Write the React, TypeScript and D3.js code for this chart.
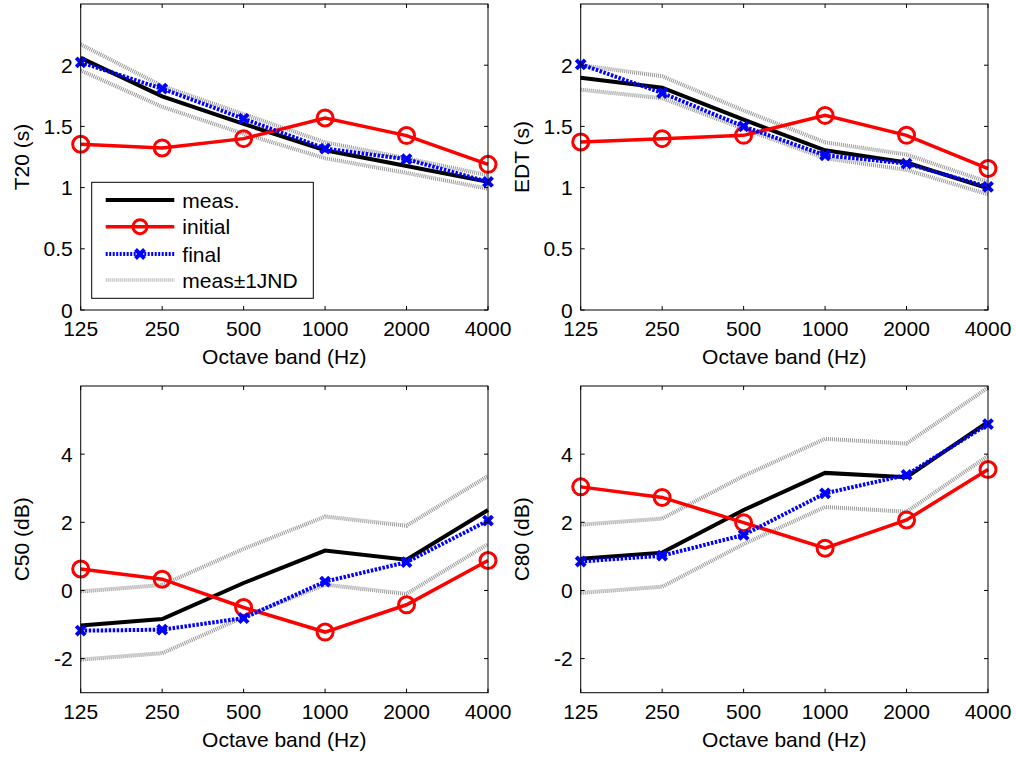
import * as d3 from 'd3';

// octave bands
const bands = ['125', '250', '500', '1000', '2000', '4000'];

// T20 (s)
const t20Meas = [2.06, 1.745, 1.52, 1.305, 1.177, 1.047];
const t20Init = [1.354, 1.324, 1.40, 1.569, 1.425, 1.19];
const t20Final = [2.023, 1.808, 1.563, 1.319, 1.232, 1.047];
const t20Upper = [2.17, 1.83, 1.60, 1.37, 1.24, 1.10];
const t20Lower = [1.957, 1.66, 1.44, 1.24, 1.12, 0.99];

// EDT (s)
const edtMeas = [1.898, 1.816, 1.555, 1.305, 1.205, 0.993];
const edtInit = [1.373, 1.40, 1.427, 1.59, 1.427, 1.156];
const edtFinal = [2.007, 1.773, 1.50, 1.264, 1.196, 1.006];
const edtUpper = [2.0, 1.91, 1.63, 1.37, 1.27, 1.045];
const edtLower = [1.80, 1.73, 1.48, 1.24, 1.145, 0.945];

// C50 (dB)
const c50Meas = [-1.03, -0.84, 0.22, 1.17, 0.90, 2.36];
const c50Init = [0.63, 0.33, -0.50, -1.22, -0.42, 0.88];
const c50Final = [-1.18, -1.15, -0.81, 0.26, 0.83, 2.05];
const c50Upper = [-0.03, 0.16, 1.22, 2.17, 1.90, 3.36];
const c50Lower = [-2.03, -1.84, -0.78, 0.17, -0.10, 1.36];

// C80 (dB)
const c80Meas = [0.93, 1.11, 2.36, 3.45, 3.32, 4.95];
const c80Init = [3.04, 2.73, 1.99, 1.24, 2.07, 3.55];
const c80Final = [0.85, 1.02, 1.63, 2.85, 3.39, 4.88];
const c80Upper = [1.93, 2.11, 3.36, 4.45, 4.31, 5.95];
const c80Lower = [-0.07, 0.11, 1.36, 2.45, 2.31, 3.95];

const rtTicks = [0, 0.5, 1, 1.5, 2];
const clTicks = [-2, 0, 2, 4];

const legendItems = ['meas.', 'initial', 'final', 'meas\u00b11JND'];

const FONT = 'Liberation Sans, Arial, Helvetica, sans-serif';
const GREY = '#999';

interface PanelProps {
	x0: number; x1: number; y0: number; y1: number;
	domain: [number, number];
	ticks: number[];
	label: string;
	meas: number[]; init: number[]; fin: number[]; upper: number[]; lower: number[];
	legend?: boolean;
}

function xMark(cx: number, cy: number, s: number){
	return `M${cx - s},${cy - s}L${cx + s},${cy + s}M${cx - s},${cy + s}L${cx + s},${cy - s}`;
}

function Panel(p: PanelProps){
	const x = d3.scalePoint<string>().domain(bands).range([p.x0, p.x1]).padding(0)
		, y = d3.scaleLinear().domain(p.domain).range([p.y1, p.y0])
		, line = d3.line<number>().x((d, i)=> x(bands[i]) as number).y((d)=> y(d))
		, tk = 4
		;

	return (<g>
		<rect x={p.x0} y={p.y0} width={p.x1 - p.x0} height={p.y1 - p.y0} fill="#fff"/>
		{/* jnd */}
		<path d={line(p.upper) || ''} fill="none" stroke={GREY} strokeWidth={4} strokeDasharray="1 1"/>
		<path d={line(p.lower) || ''} fill="none" stroke={GREY} strokeWidth={4} strokeDasharray="1 1"/>
		{/* meas */}
		<path d={line(p.meas) || ''} fill="none" stroke="#000" strokeWidth={4}/>
		{/* initial */}
		<path d={line(p.init) || ''} fill="none" stroke="#ff0000" strokeWidth={3.5}/>
		{p.init.map((d, i)=> <circle key={i} cx={x(bands[i])} cy={y(d)} r={8} fill="none" stroke="#ff0000" strokeWidth={3}/>)}
		{/* final */}
		<path d={line(p.fin) || ''} fill="none" stroke="#0000ff" strokeWidth={4} strokeDasharray="2.5 1.5"/>
		{p.fin.map((d, i)=> <path key={i} d={xMark(x(bands[i]) as number, y(d), 4.5)} stroke="#0000ff" strokeWidth={4}/>)}

		{/* box & ticks */}
		<rect x={p.x0} y={p.y0} width={p.x1 - p.x0} height={p.y1 - p.y0} fill="none" stroke="#000" strokeWidth={1}/>
		{bands.map((b)=>{
			const bx = x(b) as number;
			return (<g key={b}>
				<line x1={bx} x2={bx} y1={p.y1} y2={p.y1 - tk} stroke="#000"/>
				<line x1={bx} x2={bx} y1={p.y0} y2={p.y0 + tk} stroke="#000"/>
				<text x={bx} y={p.y1 + 26} textAnchor="middle" fontSize={21} fontFamily={FONT}>{b}</text>
			</g>);
		})}
		{p.ticks.map((t)=>{
			const ty = y(t);
			return (<g key={t}>
				<line x1={p.x0} x2={p.x0 + tk} y1={ty} y2={ty} stroke="#000"/>
				<line x1={p.x1} x2={p.x1 - tk} y1={ty} y2={ty} stroke="#000"/>
				<text x={p.x0 - 8} y={ty + 7.5} textAnchor="end" fontSize={21} fontFamily={FONT}>{String(t)}</text>
			</g>);
		})}
		<text x={(p.x0 + p.x1) / 2} y={p.y1 + 54} textAnchor="middle" fontSize={21} fontFamily={FONT}>Octave band (Hz)</text>
		<text transform={`translate(${p.x0 - 52},${(p.y0 + p.y1) / 2}) rotate(-90)`} textAnchor="middle" fontSize={21} fontFamily={FONT}>{p.label}</text>

		{p.legend && <Legend/>}
	</g>);
}

function Legend(){
	const bx = 91.7, by = 182.3, bw = 221.6, bh = 116
		, rows = [200, 226.7, 254, 280]
		, lx0 = 105.7, lx1 = 174.3, mx = (lx0 + lx1) / 2
		;

	return (<g>
		<rect x={bx} y={by} width={bw} height={bh} fill="#fff" stroke="#000" strokeWidth={1}/>
		<line x1={lx0} x2={lx1} y1={rows[0]} y2={rows[0]} stroke="#000" strokeWidth={4}/>
		<line x1={lx0} x2={lx1} y1={rows[1]} y2={rows[1]} stroke="#ff0000" strokeWidth={3.5}/>
		<circle cx={mx} cy={rows[1]} r={7} fill="none" stroke="#ff0000" strokeWidth={3}/>
		<line x1={lx0} x2={lx1} y1={rows[2]} y2={rows[2]} stroke="#0000ff" strokeWidth={4} strokeDasharray="2 1.5"/>
		<path d={xMark(mx, rows[2], 4.5)} stroke="#0000ff" strokeWidth={4}/>
		<line x1={lx0} x2={lx1} y1={rows[3]} y2={rows[3]} stroke="#b5b5b5" strokeWidth={3.5} strokeDasharray="1 1"/>
		{legendItems.map((t, i)=> <text key={t} x={182.3} y={rows[i] + 7.5} fontSize={21} fontFamily={FONT}>{t}</text>)}
	</g>);
}

export default function App(){
	const L = [80.7, 488], R = [580.7, 988], T = [4, 310], B = [386, 692.7];

	return (<svg width={1016} height={758} style={{position: 'absolute', left: 0, top: 0, background: '#fff'}}>
		<rect width={1016} height={758} fill="#fff"/>
		<Panel x0={L[0]} x1={L[1]} y0={T[0]} y1={T[1]} domain={[0, 2.5]} ticks={rtTicks} label="T20 (s)"
		       meas={t20Meas} init={t20Init} fin={t20Final} upper={t20Upper} lower={t20Lower} legend/>
		<Panel x0={R[0]} x1={R[1]} y0={T[0]} y1={T[1]} domain={[0, 2.5]} ticks={rtTicks} label="EDT (s)"
		       meas={edtMeas} init={edtInit} fin={edtFinal} upper={edtUpper} lower={edtLower}/>
		<Panel x0={L[0]} x1={L[1]} y0={B[0]} y1={B[1]} domain={[-3, 6]} ticks={clTicks} label="C50 (dB)"
		       meas={c50Meas} init={c50Init} fin={c50Final} upper={c50Upper} lower={c50Lower}/>
		<Panel x0={R[0]} x1={R[1]} y0={B[0]} y1={B[1]} domain={[-3, 6]} ticks={clTicks} label="C80 (dB)"
		       meas={c80Meas} init={c80Init} fin={c80Final} upper={c80Upper} lower={c80Lower}/>
	</svg>);
}
